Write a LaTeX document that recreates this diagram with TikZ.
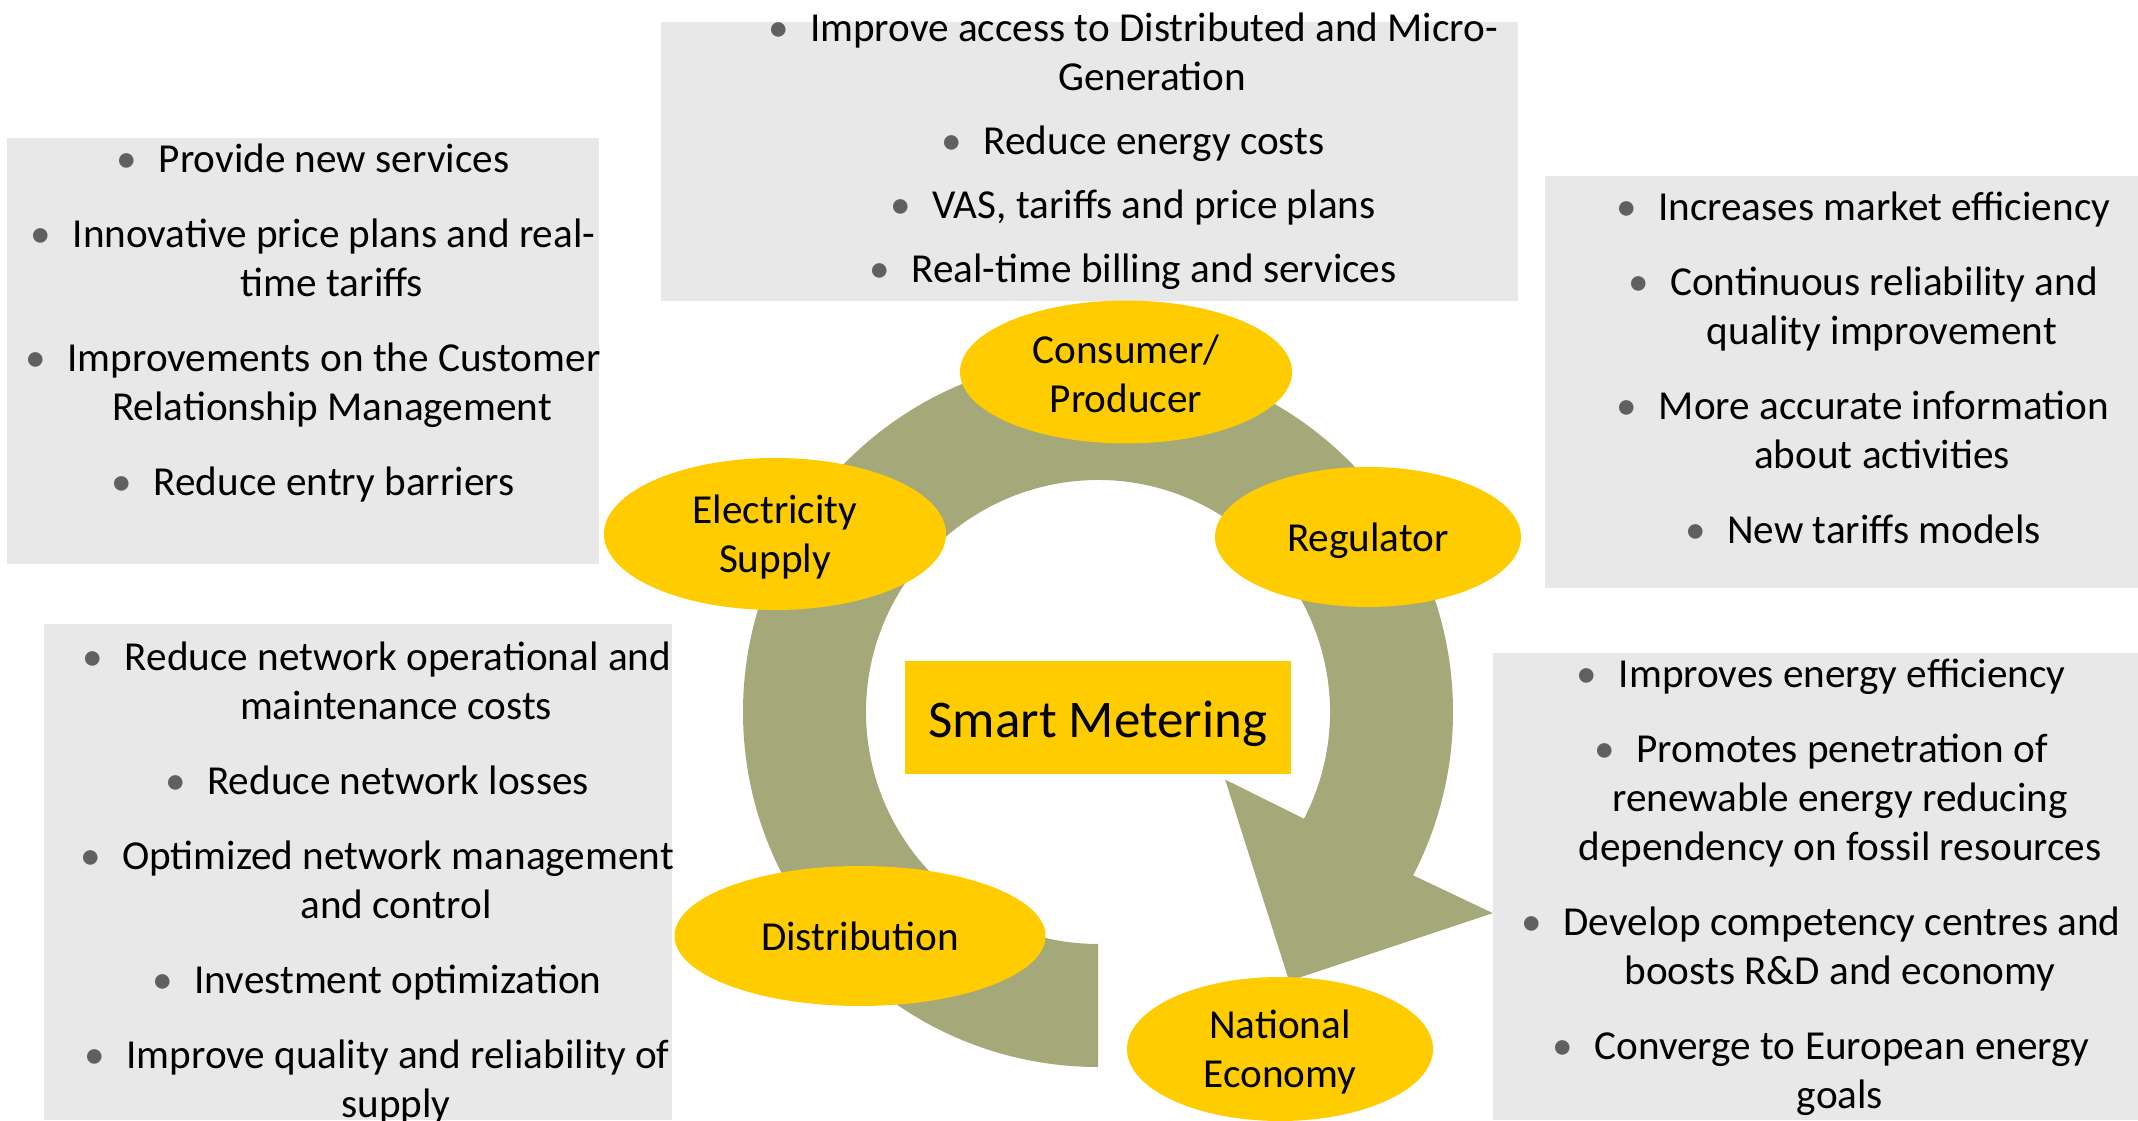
\documentclass[tikz,border=0pt]{standalone}
\usepackage{fontspec}
\setmainfont{Carlito}
\usepackage{xcolor}
\usepackage{tikz}
\usetikzlibrary{shapes.geometric,calc}

\definecolor{arrowgreen}{HTML}{A5A878}
\definecolor{sunyellow}{HTML}{FFCC00}
\definecolor{panelgray}{HTML}{E8E8E8}
\definecolor{dotgray}{HTML}{606060}

\newcommand{\linestrut}{\rule[-5pt]{0pt}{24.3pt}}
\newcommand{\itemdot}{\linestrut\makebox[21pt][l]{\textcolor{dotgray}{\textbullet}}}
\newcommand{\wrapin}{\linestrut\hspace*{19pt}}

\begin{document}
\begin{tikzpicture}[x=0.5pt,y=0.5pt,
    panel/.style={shape=rectangle, fill=panelgray, inner sep=0pt},
    actor/.style={shape=ellipse, fill=sunyellow, inner sep=0pt, align=center, font=\fontsize{20.6}{24.5}\selectfont},
    points/.style={inner sep=0pt, align=center, font=\fontsize{20.6}{24.5}\selectfont}]
    \useasboundingbox (0,0) rectangle (2138,1120);
    \clip (0,0) rectangle (2138,1120);
    \fill[white] (0,0) rectangle (2138,1120);

    % grey panels
    \node[panel, minimum width=428.5pt, minimum height=139.5pt] (consumerbox) at (1089.5,958.5) {};
    \node[panel, minimum width=296pt, minimum height=213pt] (supplybox) at (303,769) {};
    \node[panel, minimum width=296.5pt, minimum height=206pt] (regulatorbox) at (1841.5,738) {};
    \node[panel, minimum width=314pt, minimum height=248pt] (distributionbox) at (358,248) {};
    \node[panel, minimum width=322.5pt, minimum height=233.5pt] (economybox) at (1815.5,233.5) {};

    % circular arrow
    \coordinate (hub) at (1098,408);
    \fill[arrowgreen] ($(hub)+(270:355)$) arc[start angle=270, end angle=-27.4, radius=355]
        -- ($(hub)+(-27:443)$) -- ($(hub)+(-54.6:330)$) -- ($(hub)+(-28:144)$)
        -- ($(hub)+(-27.4:232)$) arc[start angle=-27.4, end angle=270, radius=232] -- cycle;

    % actors
    \node[actor, minimum width=166pt, minimum height=70pt] (consumer) at (1126,748) {\rule[-5pt]{0pt}{26pt}Consumer/\\\linestrut Producer};
    \node[actor, minimum width=171pt, minimum height=76pt] (supply) at (775,586) {\linestrut Electricity\\\linestrut Supply};
    \node[actor, minimum width=153pt, minimum height=70pt] (regulator) at (1368,583) {\linestrut Regulator};
    \node[actor, minimum width=185.5pt, minimum height=70pt] (distribution) at (860,184) {\linestrut Distribution};
    \node[actor, minimum width=153pt, minimum height=72pt] (economy) at (1280,71) {\linestrut National\\\linestrut Economy};

    \node[shape=rectangle, fill=sunyellow, minimum width=193pt, minimum height=56.5pt,
        font=\fontsize{26.5}{31}\selectfont] (smart) at (1098,402.5) {\rule[-6.5pt]{0pt}{32.6pt}Smart Metering};

    % benefit lists
    \node[points] (consumerpts) at (1133,972) {\itemdot Improve access to Distributed and Micro-\\
        \wrapin Generation\\[7.5pt]
        \itemdot Reduce energy costs\\[7.5pt]
        \itemdot VAS, tariffs and price plans\\[7.5pt]
        \itemdot Real-time billing and services};
    \node[points] (supplypts) at (313,800) {\itemdot Provide new services\\[13pt]
        \itemdot Innovative price plans and real-\\
        \wrapin time tariffs\\[13pt]
        \itemdot Improvements on the Customer\\
        \wrapin Relationship Management\\[13pt]
        \itemdot Reduce entry barriers};
    \node[points] (regulatorpts) at (1863,752) {\itemdot Increases market efficiency\\[13pt]
        \itemdot Continuous reliability and\\
        \wrapin quality improvement\\[13pt]
        \itemdot More accurate information\\
        \wrapin about activities\\[13pt]
        \itemdot New tariffs models};
    \node[points] (distributionpts) at (377,240.5) {\itemdot Reduce network operational and\\
        \wrapin maintenance costs\\[13pt]
        \itemdot Reduce network losses\\[13pt]
        \itemdot Optimized network management\\
        \wrapin and control\\[13pt]
        \itemdot Investment optimization\\[13pt]
        \itemdot Improve quality and reliability of\\
        \wrapin supply};
    \node[points] (economypts) at (1821,236.5) {\itemdot Improves energy efficiency\\[13pt]
        \itemdot Promotes penetration of\\
        \wrapin renewable energy reducing\\
        \wrapin dependency on fossil resources\\[13pt]
        \itemdot Develop competency centres and\\
        \wrapin boosts R\&D and economy\\[13pt]
        \itemdot Converge to European energy\\
        \wrapin goals};
\end{tikzpicture}
\end{document}
